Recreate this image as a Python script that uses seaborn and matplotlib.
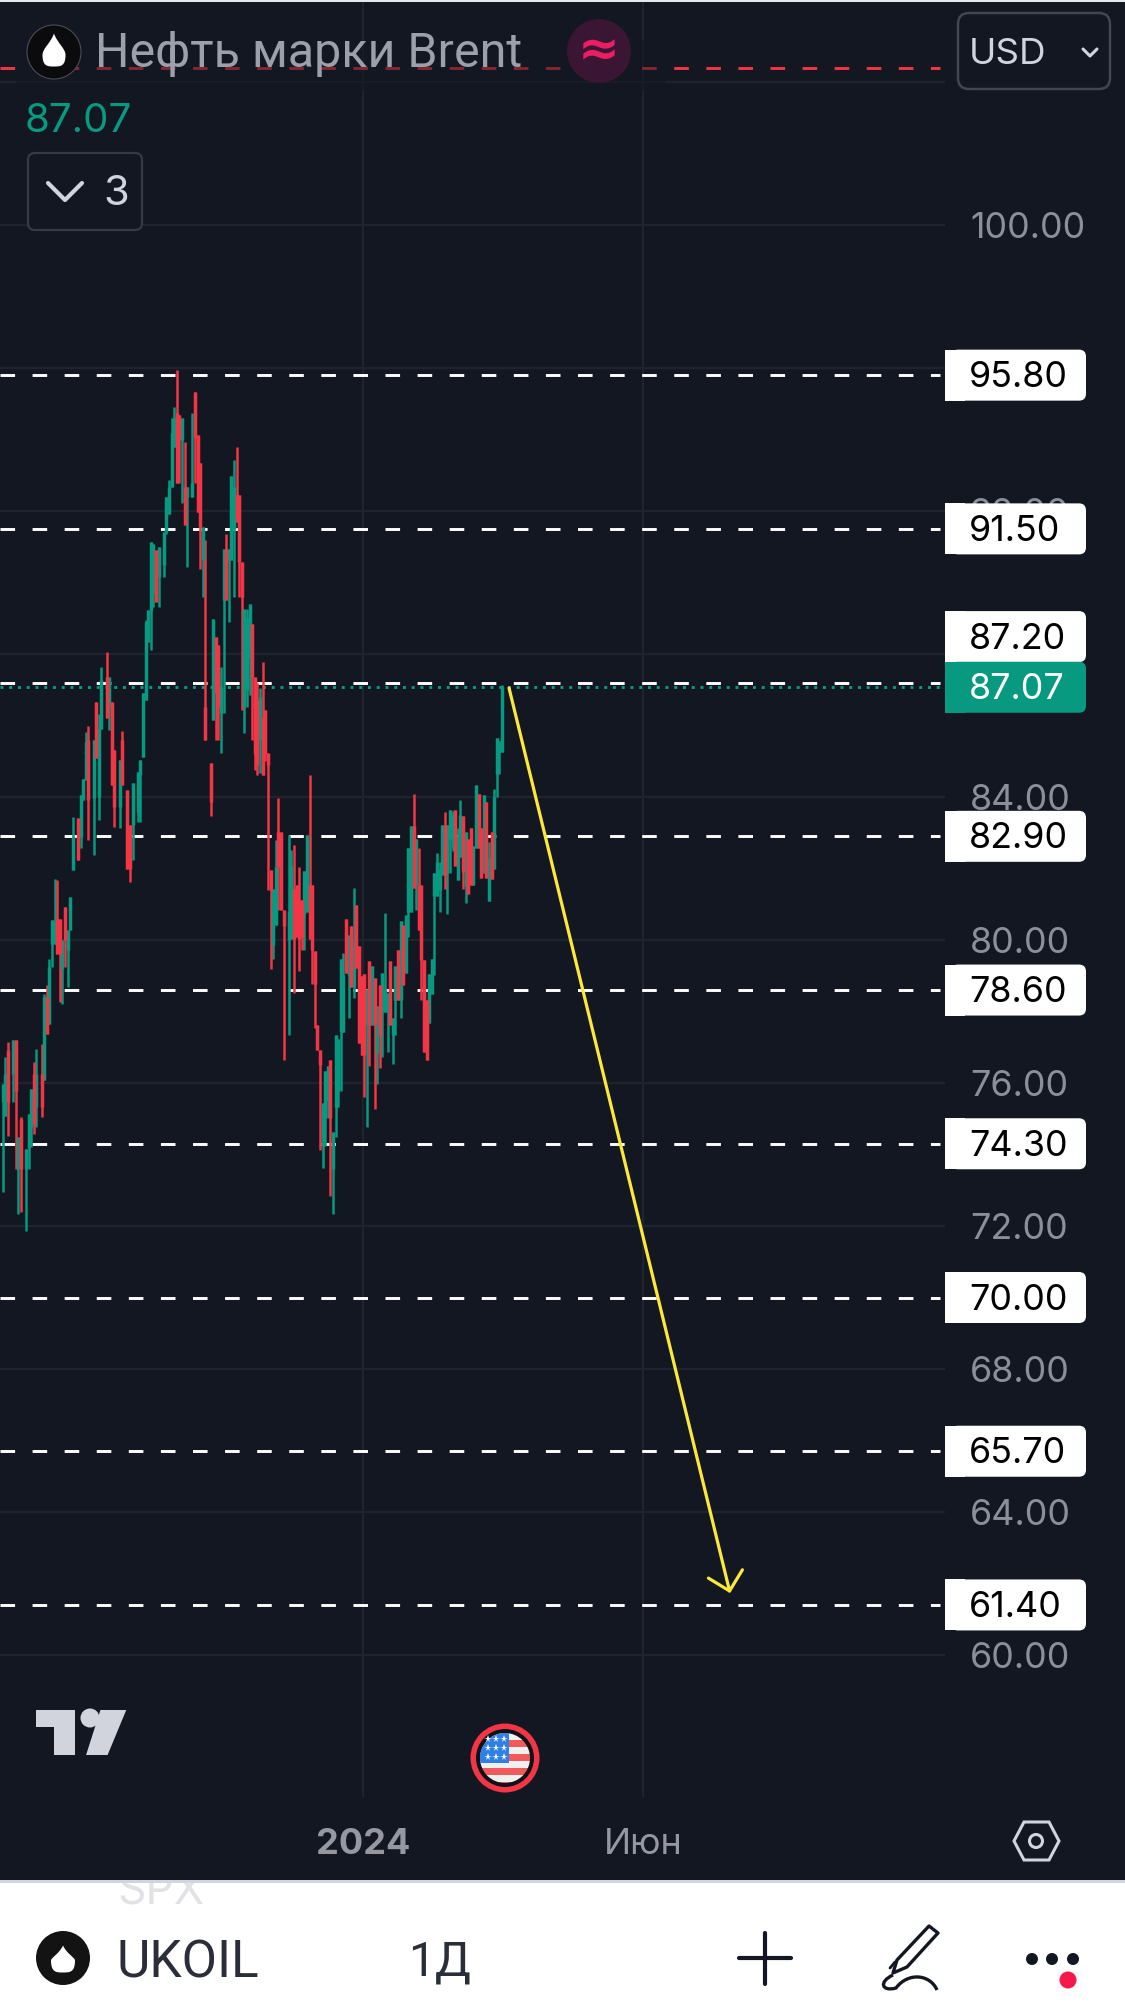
import matplotlib
matplotlib.use("Agg")
import matplotlib.pyplot as plt
import seaborn as sns
import pandas as pd
from matplotlib.patches import Circle, FancyBboxPatch, PathPatch, Polygon, Rectangle
from matplotlib.path import Path

# UKOIL daily candles
days = [1, 2, 3, 5, 6, 7, 8, 10, 11, 12,
        13, 14, 16, 17, 18, 19, 20, 21, 22, 23,
        24, 25, 26, 27, 28, 30, 31, 32, 33, 34,
        36, 37, 38, 39, 41, 42, 43, 44, 46, 47,
        49, 50, 51, 53, 54, 55, 56, 57, 58, 59,
        60, 61, 63, 64, 65, 66, 67, 68, 69, 70,
        71, 72, 74, 75, 76, 77, 78, 79, 81, 82,
        83, 84, 85, 86, 87, 88, 89, 90, 91, 92,
        93, 94, 95, 96, 97, 98, 99, 100, 101, 102,
        103, 104, 105, 106, 107, 108, 109, 111, 112, 113,
        114, 115, 116, 117, 118, 119, 120, 121, 122, 123,
        124, 125, 126, 127, 128, 129, 130, 131, 132, 133,
        134, 135, 136, 137, 138, 139, 140, 141, 142, 143,
        144, 145, 146, 147, 148, 149, 150, 151, 152, 153,
        154, 155, 156, 157, 158, 159, 160, 161, 162, 163,
        164, 165, 166, 167, 168, 169, 170, 171, 172, 173,
        174, 175, 176, 177, 178, 179, 180, 181, 182, 183,
        184, 185, 186, 187, 188, 189, 190, 191, 192, 193]
opens = [75.46, 75.09, 76.91, 76.25, 77.19, 73.59, 75.0, 73.59, 74.2, 74.76,
         76.25, 75.32, 76.25, 76.07, 78.4, 77.66, 79.9, 79.9, 80.6, 80.6,
         79.2, 80.93, 79.71, 80.27, 81.96, 83.4, 82.89, 83.92, 84.48, 85.6,
         83.96, 86.66, 84.0, 85.9, 87.36, 86.52, 86.66, 85.32, 83.73, 85.6,
         84.2, 83.22, 83.22, 83.59, 84.62, 85.13, 86.71, 88.34, 89.23, 89.69,
         90.9, 90.16, 90.49, 91.42, 91.93, 92.68, 93.8, 94.73, 94.68, 93.98,
         92.68, 92.4, 92.4, 95.33, 94.12, 93.33, 90.63, 86.52, 84.95, 86.15,
         88.48, 88.25, 86.34, 89.51, 90.95, 90.63, 90.63, 91.5, 92.44, 92.44,
         90.58, 86.52, 87.0, 87.9, 88.84, 87.36, 86.7, 85.6, 86.25, 86.43,
         85.23, 81.96, 79.85, 80.41, 83.03, 83.03, 80.83, 80.0, 80.03, 81.43,
         81.53, 81.13, 81.13, 80.73, 80.78, 81.53, 81.53, 79.68, 77.63, 76.93,
         74.23, 75.03, 75.5, 76.63, 73.6, 75.33, 75.78, 77.43, 77.43, 80.58,
         79.03, 80.38, 78.68, 80.98, 79.83, 78.98, 79.05, 77.63, 79.4, 77.63,
         78.93, 76.83, 78.73, 77.98, 77.98, 77.98, 79.4, 77.33, 78.33, 79.73,
         78.33, 80.43, 79.08, 80.78, 80.78, 83.18, 81.53, 81.53, 81.53, 79.43,
         78.33, 77.68, 78.48, 81.23, 81.23, 81.4, 81.83, 83.23, 81.88, 82.83,
         82.6, 83.63, 81.68, 82.33, 83.48, 81.5, 82.83, 83.13, 81.53, 82.58,
         84.08, 83.13, 81.88, 83.85, 81.08, 83.03, 81.98, 84.63, 85.25, 85.25]
highs = [75.97, 76.72, 77.14, 77.21, 77.19, 74.48, 75.04, 74.15, 75.13, 75.83,
         76.58, 76.96, 77.08, 78.5, 78.73, 79.48, 80.55, 81.72, 81.67, 80.6,
         79.99, 80.93, 80.27, 81.21, 83.45, 83.4, 84.06, 84.5, 85.82, 85.98,
         85.6, 86.66, 86.32, 87.64, 88.06, 87.36, 86.66, 85.32, 85.04, 85.85,
         84.2, 83.22, 84.39, 84.71, 85.04, 86.9, 88.95, 89.23, 91.14, 91.09,
         90.9, 91.0, 91.42, 92.4, 92.86, 94.59, 94.91, 95.94, 94.68, 94.59,
         93.94, 92.68, 94.75, 95.33, 94.12, 93.33, 91.56, 91.19, 84.95, 88.97,
         88.48, 88.25, 87.64, 90.95, 91.37, 90.95, 92.98, 93.44, 93.8, 92.44,
         90.58, 89.27, 89.27, 89.41, 88.84, 87.36, 87.2, 87.04, 87.78, 86.43,
         85.23, 81.96, 81.44, 82.8, 83.98, 83.03, 80.83, 82.93, 82.53, 82.65,
         81.53, 82.03, 81.13, 81.93, 82.93, 84.61, 81.53, 79.68, 77.63, 76.93,
         75.43, 76.33, 76.48, 76.63, 74.63, 77.33, 77.23, 79.48, 79.63, 80.58,
         80.13, 80.38, 81.45, 80.98, 79.83, 78.98, 79.05, 78.63, 79.4, 79.28,
         78.93, 78.15, 78.73, 79.08, 80.75, 78.53, 79.4, 77.83, 79.28, 79.73,
         80.53, 80.43, 80.71, 82.58, 83.18, 84.08, 82.83, 82.58, 81.53, 79.43,
         78.33, 79.05, 79.48, 81.88, 82.43, 82.18, 83.23, 83.58, 83.23, 83.65,
         83.6, 83.63, 83.13, 83.93, 83.48, 83.03, 82.83, 83.13, 82.63, 84.33,
         84.08, 83.13, 84.05, 83.85, 82.73, 83.03, 84.21, 85.65, 85.58, 87.13]
lows = [72.94, 75.09, 74.53, 75.46, 73.59, 72.33, 72.38, 71.86, 73.59, 74.2,
        74.57, 74.76, 75.04, 76.07, 77.38, 77.66, 79.24, 79.9, 79.62, 78.26,
        78.22, 79.24, 78.68, 80.27, 81.96, 82.24, 82.56, 83.92, 84.48, 82.8,
        82.38, 85.09, 83.36, 85.9, 86.2, 85.87, 84.34, 83.17, 83.12, 84.34,
        82.0, 81.63, 82.24, 83.31, 83.31, 85.13, 86.71, 88.34, 88.11, 89.32,
        89.46, 89.32, 90.16, 91.37, 91.93, 92.68, 93.8, 92.77, 92.77, 92.21,
        91.6, 90.44, 92.4, 92.77, 91.98, 90.39, 89.6, 85.6, 83.47, 86.15,
        85.6, 85.6, 85.23, 86.34, 89.51, 88.9, 90.63, 89.6, 91.7, 89.6,
        86.43, 85.78, 86.52, 86.85, 85.6, 84.76, 84.62, 84.67, 84.62, 85.0,
        81.39, 79.2, 79.48, 80.41, 80.83, 80.83, 76.63, 77.33, 80.03, 78.53,
        80.08, 79.13, 79.73, 79.73, 80.78, 80.03, 78.78, 77.53, 76.93, 74.13,
        73.63, 74.23, 75.03, 72.83, 72.33, 74.48, 75.33, 75.78, 77.43, 79.08,
        77.83, 78.68, 78.38, 79.23, 77.13, 76.78, 75.61, 74.78, 76.48, 77.63,
        75.28, 75.98, 76.43, 76.73, 77.98, 76.88, 77.63, 76.53, 77.33, 78.33,
        77.83, 78.73, 79.08, 80.08, 80.78, 81.45, 80.83, 80.28, 78.33, 76.88,
        76.65, 77.68, 78.48, 79.03, 81.23, 80.78, 81.83, 81.43, 80.73, 81.88,
        82.5, 82.08, 81.68, 82.33, 81.43, 81.03, 81.28, 81.53, 81.53, 82.58,
        82.58, 81.73, 81.88, 81.73, 81.08, 81.71, 81.98, 84.0, 84.63, 85.25]
closes = [75.97, 76.25, 75.46, 77.21, 75.79, 74.48, 73.59, 74.15, 75.13, 75.83,
          74.85, 76.25, 75.32, 78.4, 77.38, 79.24, 80.55, 80.55, 79.62, 79.62,
          79.99, 79.99, 80.27, 81.21, 82.89, 82.24, 84.06, 84.5, 85.55, 83.92,
          85.6, 85.09, 85.9, 87.27, 86.2, 87.36, 84.34, 83.73, 85.04, 84.34,
          82.0, 82.0, 84.39, 84.71, 85.04, 86.9, 88.9, 89.23, 91.14, 91.09,
          89.46, 91.0, 91.42, 92.4, 92.68, 94.17, 94.59, 92.77, 93.98, 94.59,
          91.6, 92.68, 92.77, 94.08, 91.98, 91.56, 91.56, 85.6, 83.87, 88.97,
          86.9, 86.52, 87.08, 90.95, 89.51, 90.95, 92.98, 92.68, 91.7, 90.58,
          89.6, 89.27, 89.0, 89.41, 87.36, 85.2, 84.9, 86.8, 84.62, 85.2,
          84.9, 81.39, 81.44, 82.05, 82.03, 80.83, 80.4, 80.8, 82.08, 80.03,
          80.08, 80.03, 80.08, 81.93, 82.93, 80.03, 79.73, 78.78, 76.93, 76.5,
          75.43, 76.33, 76.48, 75.03, 74.63, 77.33, 77.23, 79.48, 79.03, 79.08,
          80.13, 78.68, 80.03, 79.23, 77.13, 76.78, 76.78, 78.63, 77.63, 79.28,
          77.63, 78.15, 77.33, 79.08, 78.63, 78.53, 77.63, 77.83, 79.28, 78.33,
          80.53, 78.73, 80.71, 82.58, 83.18, 81.45, 82.83, 80.28, 79.43, 76.88,
          76.65, 79.05, 79.48, 81.88, 82.18, 82.0, 83.23, 81.83, 83.23, 83.65,
          83.5, 82.08, 82.9, 83.5, 81.9, 83.03, 81.28, 81.53, 82.63, 84.33,
          82.58, 81.73, 84.05, 81.73, 82.3, 81.71, 84.0, 85.65, 85.58, 87.07]

levels = [95.80, 91.50, 87.20, 82.90, 78.60, 74.30, 70.00, 65.70, 61.40]
grid_prices = [100, 96, 92, 88, 84, 80, 76, 72, 68, 64, 60]
hidden_prices = [96, 88]  # these two sit fully behind level boxes in the screenshot
alert_price = 104.39
last_price = 87.07
arrow_days = [195.7, 280.7]
arrow_prices = [87.05, 61.73]
date_ticks = [139.6, 247.2]
date_labels = ["2024", "Июн"]

BG = "#131722"
GRID = "#1f232e"
UP = "#089981"
DOWN = "#f23645"
AXIS_TXT = "#8b8f9a"
LIGHT = "#d1d4dc"
FONT = "Inter"

W, H = 1125, 2005
PX_PER_UNIT = 35.75


def price_y(p):
    return 225 + (100 - p) * PX_PER_UNIT


sns.set_theme(style="dark")
plt.rcParams["font.family"] = [FONT, "DejaVu Sans"]

fig = plt.figure(figsize=(W / 100, H / 100), dpi=100, facecolor=BG)

# price pane, px 0..945 across and 2..1797 down
ax = fig.add_axes([0, (H - 1797) / H, 945 / W, 1795 / H], facecolor=BG)

df = pd.DataFrame({"day": days, "open": opens, "high": highs, "low": lows, "close": closes})
df["dir"] = ["up" if c >= o else "down" for o, c in zip(opens, closes)]
df["top"] = df[["open", "close"]].max(axis=1)
df["bot"] = df[["open", "close"]].min(axis=1)

wicks = pd.concat([df[["day", "dir", "high"]].rename(columns={"high": "price"}),
                   df[["day", "dir", "low"]].rename(columns={"low": "price"})])
bodies = pd.concat([df[["day", "dir", "top"]].rename(columns={"top": "price"}),
                    df[["day", "dir", "bot"]].rename(columns={"bot": "price"})])
pal = {"up": UP, "down": DOWN}

ax.axhline(alert_price, xmax=940 / 945, color=DOWN, lw=2.1, ls=(0, (5, 6)), zorder=2)
for lv in levels:
    ax.axhline(lv, xmax=940 / 945, color="white", lw=2.1, ls=(0, (5, 6)), zorder=2)
ax.axhline(last_price, xmax=940 / 945, color=UP, lw=2.1, ls=(0, (1, 2)), zorder=2)

sns.lineplot(data=wicks, x="day", y="price", hue="dir", units="day", estimator=None, sort=False,
             palette=pal, lw=1.8, legend=False, solid_capstyle="butt", ax=ax, zorder=3)
sns.lineplot(data=bodies, x="day", y="price", hue="dir", units="day", estimator=None, sort=False,
             palette=pal, lw=2.5, legend=False, solid_capstyle="butt", ax=ax, zorder=3)

ax.annotate("", xy=(arrow_days[1], arrow_prices[1]), xytext=(arrow_days[0], arrow_prices[0]),
            arrowprops=dict(arrowstyle="->,head_length=1.05,head_width=1.05", color="#fbe83a", lw=2.3,
                            shrinkA=0, shrinkB=0), zorder=4)

ax.set_xlim(0, 945 / 2.601)
ax.set_ylim(100 - (1797 - 225) / PX_PER_UNIT, 100 + 223 / PX_PER_UNIT)
ax.set_xlabel("")
ax.set_ylabel("")
for s in ax.spines.values():
    s.set_visible(False)

ax.set_yticks(grid_prices)
ax.set_yticklabels(["" if p in hidden_prices else f"{p:.2f}" for p in grid_prices],
                   fontsize=25.8, color=AXIS_TXT)
ax.yaxis.tick_right()
ax.tick_params(axis="y", length=0, pad=18)
ax.set_xticks(date_ticks)
ax.set_xticklabels(date_labels, fontsize=26, color="#9598a1")
ax.get_xticklabels()[0].set_fontweight("bold")
ax.tick_params(axis="x", length=0, pad=22.5)
ax.grid(True, color=GRID, lw=1.6)
ax.set_axisbelow(True)
ax.axhline(104, color=GRID, lw=1.6, zorder=0)

# overlay in screen pixels for the app chrome
ui = fig.add_axes([0, 0, 1, 1], facecolor="none", zorder=5)
ui.set_xlim(0, W)
ui.set_ylim(H, 0)
ui.axis("off")


def drop(cx, cy, w, h, color):
    t, b = cy - h / 2, cy + h / 2
    r = w / 2
    verts = [(cx, t), (cx + r * 0.3, t + h * 0.3), (cx + r, t + h * 0.45), (cx + r, b - r),
             (cx + r, b + r * 0.0), (cx + r * 0.55, b), (cx, b),
             (cx - r * 0.55, b), (cx - r, b), (cx - r, b - r),
             (cx - r, t + h * 0.45), (cx - r * 0.3, t + h * 0.3), (cx, t)]
    codes = [Path.MOVETO] + [Path.CURVE4] * 12
    ui.add_patch(PathPatch(Path(verts, codes), fc=color, ec="none", zorder=7))


def price_box(y, txt, fc, tc):
    ui.add_patch(FancyBboxPatch((951, y - 25.5), 135, 51, boxstyle="round,pad=0,rounding_size=7",
                                fc=fc, ec="none", zorder=6))
    ui.add_patch(Rectangle((945, y - 25.5), 20, 51, fc=fc, ec="none", zorder=6))
    ui.text(969, y + 2.5, txt, color=tc, fontsize=25.8, va="center", ha="left", zorder=7)


# legend fade over the alert line
ui.add_patch(Rectangle((16, 40), 650, 50, fc=BG, alpha=0.5, ec="none", zorder=1))

# top strip
ui.add_patch(Rectangle((0, 0), W, 2, fc="#e6e8ee", ec="none", zorder=1))

# header
ui.add_patch(Circle((54, 52), 27, fc="#0b0b0d", ec="#4a4d57", lw=0.8, zorder=6))
drop(54, 50, 23, 33, "white")
ui.text(95, 54, "Нефть марки Brent", color="#9ca0aa", fontsize=34.8, va="center", ha="left", zorder=6,
        family="Roboto")
ui.add_patch(Circle((599, 51), 32, fc="#3a1534", ec="none", zorder=6))
ui.text(599, 51, "≈", color="#e91e63", fontsize=36, fontweight="bold", va="center", ha="center", zorder=7,
        family="DejaVu Sans")
ui.text(25, 121, "87.07", color=UP, fontsize=29, va="center", ha="left", zorder=6)
ui.add_patch(FancyBboxPatch((28, 153), 114, 77, boxstyle="round,pad=0,rounding_size=7",
                            fc=BG, ec="#363a45", lw=1.6, zorder=6))
ui.plot([48, 65, 82], [183, 200, 183], color=LIGHT, lw=3, zorder=7)
ui.text(103, 194, "3", color=LIGHT, fontsize=30, va="center", ha="left", zorder=7)
ui.add_patch(FancyBboxPatch((958, 13), 152, 76, boxstyle="round,pad=0,rounding_size=11",
                            fc=BG, ec="#434651", lw=1.8, zorder=6))
ui.text(969, 54, "USD", color=LIGHT, fontsize=26.5, va="center", ha="left", zorder=7)
ui.plot([1083, 1090, 1097], [49, 56, 49], color=LIGHT, lw=2.2, zorder=7)

# price labels on the scale
for lv in levels:
    y = price_y(lv)
    if lv == 87.20:
        y -= 46
    price_box(y, f"{lv:.2f}", "white", "black")
price_box(price_y(last_price), f"{last_price:.2f}", UP, "white")

# TradingView logo
logo_x = lambda v: v / 1.394
logo_y = lambda v: 1680 + v / 3
ui.add_patch(Polygon([(logo_x(a), logo_y(b)) for a, b in
                      [(50, 90), (105, 90), (105, 225), (75, 225), (75, 142), (50, 142)]], fc=LIGHT, ec="none", zorder=6))
ui.add_patch(Circle((90, 1718), 9.5, fc=LIGHT, ec="none", zorder=6))
ui.add_patch(Polygon([(logo_x(a), logo_y(b)) for a, b in
                      [(120, 225), (150, 225), (176, 90), (140, 90)]], fc=LIGHT, ec="none", zorder=6))

# US event flag
ui.add_patch(Circle((505, 1758), 34.5, fc="#f23645", ec="none", zorder=6))
ui.add_patch(Circle((505, 1758), 29, fc="#101218", ec="none", zorder=6))
clip = Circle((505, 1758), 25, transform=ui.transData)
for k, col in enumerate(["#f0f0f0", "#f05a5a", "#f0f0f0", "#f05a5a", "#f0f0f0", "#f05a5a", "#f0f0f0", "#f05a5a"]):
    r = Rectangle((478, 1733 + k * 7), 54, 7, fc=col, ec="none", zorder=7)
    ui.add_patch(r)
    r.set_clip_path(clip)
r = Rectangle((478, 1733), 31, 30, fc="#2f80e4", ec="none", zorder=8)
ui.add_patch(r)
r.set_clip_path(clip)
for sx in [488, 496, 504]:
    for sy in [1739, 1748, 1757]:
        ui.plot([sx], [sy], marker="*", ms=5.5, color="white", mew=0, zorder=9)

# settings hexagon
ui.add_patch(Polygon([(1014, 1841), (1024, 1822), (1049, 1822), (1059, 1841), (1049, 1860), (1024, 1860)],
                     fc="none", ec=LIGHT, lw=2.2, zorder=6))
ui.add_patch(Circle((1036, 1841), 6.5, fc="none", ec=LIGHT, lw=2.2, zorder=6))

# bottom toolbar
ui.add_patch(Rectangle((0, 1880), W, H - 1880, fc="white", ec="none", zorder=6))
ui.add_patch(Rectangle((0, 1880), W, 2.5, fc=LIGHT, ec="none", zorder=7))
t = ui.text(117, 1892, "SPX", color="#e1e2e5", fontsize=32, va="center", ha="left", zorder=7)
t.set_clip_on(True)
t.set_clip_path(Rectangle((0, 1883), W, 60, transform=ui.transData))
ui.add_patch(Circle((63, 1958), 27, fc="#131313", ec="none", zorder=7))
drop(63, 1959, 24, 27, "white")
ui.text(116, 1963, "UKOIL", color="#2a2e39", fontsize=37, va="center", ha="left", zorder=7, family="Roboto")
ui.text(408, 1963, "1Д", color="#2a2e39", fontsize=34.5, va="center", ha="left", zorder=7, family="Roboto")
ui.plot([739, 791], [1958, 1958], color="#131722", lw=3, solid_capstyle="round", zorder=7)
ui.plot([765, 765], [1933, 1984], color="#131722", lw=3, solid_capstyle="round", zorder=7)
ui.add_patch(Polygon([(893, 1973), (897, 1960), (929, 1926), (938, 1933), (907, 1967)], fc="white",
                     ec="#131722", lw=2.4, zorder=7, joinstyle="round"))
ui.plot([895, 890], [1962, 1968], color="#131722", lw=2, zorder=8)
squig = Path([(893, 1975), (878, 1982), (882, 1992), (896, 1988), (908, 1972), (930, 1974), (937, 1990)],
             [Path.MOVETO, Path.CURVE4, Path.CURVE4, Path.CURVE4, Path.CURVE4, Path.CURVE4, Path.CURVE4])
ui.add_patch(PathPatch(squig, fc="none", ec="#131722", lw=2.4, zorder=7))
for dx in [1032, 1052, 1073]:
    ui.add_patch(Circle((dx, 1959), 6, fc="#131722", ec="none", zorder=7))
ui.add_patch(Circle((1068, 1980), 8.5, fc="#f7174a", ec="none", zorder=8))

fig.savefig("out.png", dpi=100, facecolor=BG)
